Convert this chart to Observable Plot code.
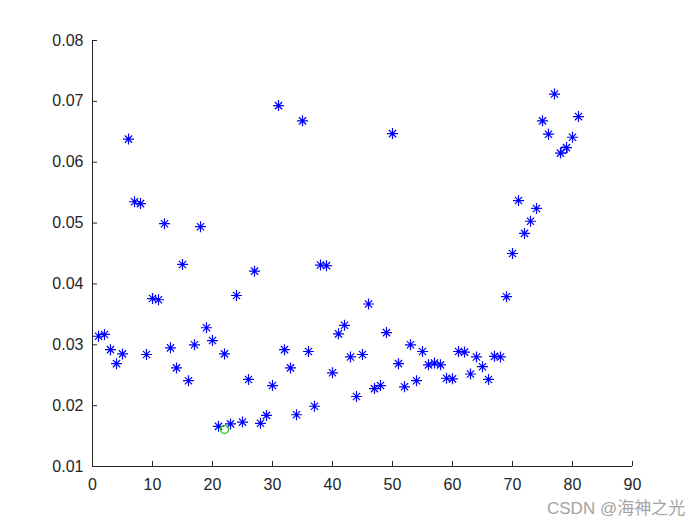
<!DOCTYPE html>
<html>
<head>
<meta charset="utf-8">
<script src="https://cdn.jsdelivr.net/npm/d3@7"></script>
<script src="https://cdn.jsdelivr.net/npm/@observablehq/plot@0.6"></script>
<style>
  html, body { margin: 0; padding: 0; background: #fff; }
  #wrap { position: relative; width: 700px; height: 525px; }
  #mark { position: absolute; left: 547px; top: 494px; font: 17px "Liberation Sans", "Noto Sans CJK SC", sans-serif; color: #a3a3a3; white-space: nowrap; }
</style>
</head>
<body>
<div id="wrap"><div id="mark">CSDN @海神之光</div></div>
<script>
// Series values (index 1..81)
const errValues = [
  0.0314, 0.0317, 0.0292, 0.0269, 0.0285, 0.0638, 0.0535, 0.0532, 0.0284, 0.0376,
  0.0374, 0.0499, 0.0295, 0.0262, 0.0432, 0.0241, 0.0300, 0.0494, 0.0328, 0.0307,
  0.0166, 0.0285, 0.0170, 0.0381, 0.0173, 0.0243, 0.0421, 0.0171, 0.0184, 0.0233,
  0.0693, 0.0292, 0.0262, 0.0185, 0.0668, 0.0289, 0.0199, 0.0431, 0.0430, 0.0254,
  0.0318, 0.0332, 0.0280, 0.0215, 0.0284, 0.0367, 0.0228, 0.0233, 0.0320, 0.0647,
  0.0269, 0.0231, 0.0300, 0.0241, 0.0289, 0.0267, 0.0270, 0.0267, 0.0245, 0.0244,
  0.0289, 0.0288, 0.0252, 0.0280, 0.0264, 0.0243, 0.0281, 0.0280, 0.0379, 0.0450,
  0.0537, 0.0483, 0.0503, 0.0524, 0.0668, 0.0646, 0.0712, 0.0615, 0.0624, 0.0641,
  0.0675
];
const minPoint = [{x: 22, y: 0.0161}];
const squarePoint = [{x: 78.6, y: 0.0620}];
const xTicks = [0, 10, 20, 30, 40, 50, 60, 70, 80, 90];
const yTicks = [0.01, 0.02, 0.03, 0.04, 0.05, 0.06, 0.07, 0.08];

const data = errValues.map((v, i) => ({x: i + 1, y: v}));

const matlabStar = {
  draw(ctx, size) {
    const r = Math.sqrt(size / Math.PI);
    const d = r * 0.66;
    ctx.moveTo(-r, 0); ctx.lineTo(r, 0);
    ctx.moveTo(0, -r); ctx.lineTo(0, r);
    ctx.moveTo(-d, -d); ctx.lineTo(d, d);
    ctx.moveTo(-d, d); ctx.lineTo(d, -d);
  }
};

const ink = "#262626";
const chart = Plot.plot({
  width: 700,
  height: 525,
  marginLeft: 92,
  marginRight: 68,
  marginTop: 40,
  marginBottom: 59,
  style: {fontFamily: "'Liberation Sans', Arial, sans-serif", fontSize: "16px", color: ink, background: "#fff"},
  x: {domain: [0, 90]},
  y: {domain: [0.01, 0.08]},
  marks: [
    Plot.axisX({ticks: xTicks, tickSize: -5, tickPadding: 17, tickFormat: d3.format("d"), label: null, stroke: ink, fill: ink}),
    Plot.axisY({ticks: yTicks, tickSize: -5, tickPadding: 14, tickFormat: d3.format(".2f"), label: null, stroke: ink, fill: ink}),
    Plot.ruleX([0], {stroke: ink}),
    Plot.ruleY([0.01], {stroke: ink}),
    Plot.dot(data, {x: "x", y: "y", symbol: matlabStar, r: 5.5, stroke: "#0000ff", strokeWidth: 1.2, fill: "none"}),
    Plot.dot(minPoint, {x: "x", y: "y", r: 4, stroke: "#33cc33", strokeWidth: 1.5, fill: "none"}),
    Plot.dot(squarePoint, {x: "x", y: "y", symbol: "square", r: 3.4, stroke: "#0000ff", strokeWidth: 1, fill: "none"})
  ]
});
document.getElementById("wrap").prepend(chart);
</script>
</body>
</html>
